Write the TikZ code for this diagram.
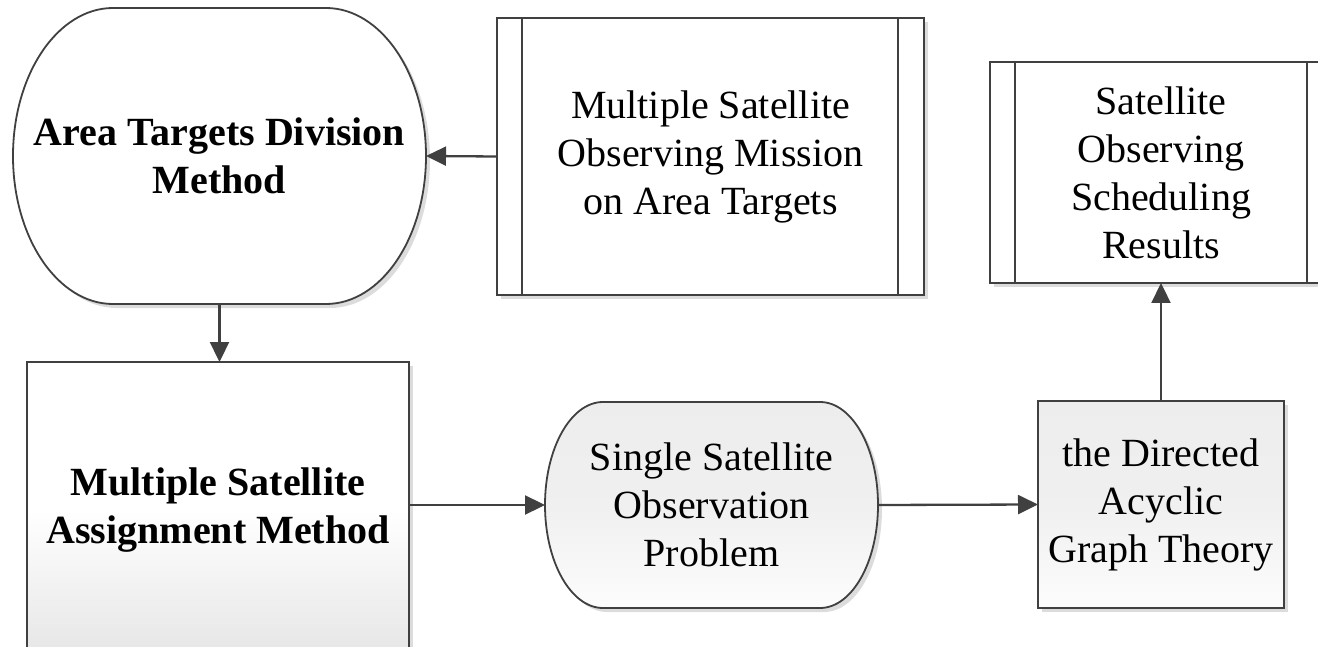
\documentclass[tikz,border=0pt]{standalone}
\usepackage{fontspec}
\setmainfont{Liberation Serif}
\usetikzlibrary{arrows.meta,shadows,backgrounds}
\definecolor{edgegray}{HTML}{404040}
\definecolor{shadegray}{HTML}{DCDCDC}
\tikzset{
  txt/.style={font=\fontsize{40}{48}\selectfont, align=center, inner sep=0pt, outer sep=0pt, rectangle},
  softshadow/.style={drop shadow={shadow xshift=4pt, shadow yshift=-4pt, fill=shadegray, opacity=1}},
  outline/.style={draw=edgegray, line width=1.8pt},
  box/.style={txt, outline, fill=white, softshadow},
  grayfill/.style={top color=black!7, bottom color=black!1, middle color=black!6},
  conn/.style={draw=edgegray, line width=2.3pt, -{Triangle[length=20pt,width=19pt]}},
}
\begin{document}
\begin{tikzpicture}[x=1pt,y=-1pt]
\clip (0,0) rectangle (1318,647);
\useasboundingbox (0,0) rectangle (1318,647);

% nodes
\node[txt, minimum width=413pt, minimum height=296pt, font=\fontsize{40}{48}\selectfont\bfseries] (atd) at (219.5,156) {Area Targets Division\\Method};
\node[box, minimum width=427pt, minimum height=277pt] (msom) at (710.5,156.5) {Multiple Satellite\\Observing Mission\\on Area Targets};
\node[box, minimum width=342pt, minimum height=221pt] (sosr) at (1161,172.5) {Satellite\\Observing\\Scheduling\\Results};
\node[box, minimum width=382pt, minimum height=296pt, font=\fontsize{40}{48}\selectfont\bfseries,
      top color=white, bottom color=black!10, middle color=white] (msa) at (218,510) {Multiple Satellite\\Assignment Method};
\node[txt, minimum width=333pt, minimum height=206pt] (sso) at (711.5,505) {Single Satellite\\Observation\\Problem};
\node[box, minimum width=246pt, minimum height=207pt, grayfill] (dag) at (1161,504.5) {the Directed\\Acyclic\\Graph Theory};

% inner lines of the subprocess boxes
\draw[outline] ([xshift=25pt]msom.north west) -- ([xshift=25pt]msom.south west);
\draw[outline] ([xshift=-26pt]msom.north east) -- ([xshift=-26pt]msom.south east);
\draw[outline] ([xshift=25pt]sosr.north west) -- ([xshift=25pt]sosr.south west);
\draw[outline] ([xshift=-25pt]sosr.north east) -- ([xshift=-25pt]sosr.south east);

% terminator outlines (behind their texts)
\begin{pgfonlayer}{background}
\path[outline, fill=white, softshadow]
  ([xshift=100pt]atd.north west) -- ([xshift=-100pt]atd.north east)
  arc[start angle=90, end angle=-90, x radius=100pt, y radius=148pt]
  -- ([xshift=100pt]atd.south west)
  arc[start angle=270, end angle=90, x radius=100pt, y radius=148pt] -- cycle;
\path[outline, grayfill, softshadow]
  ([xshift=58pt]sso.north west) -- ([xshift=-58pt]sso.north east)
  arc[start angle=90, end angle=-90, x radius=58pt, y radius=103pt]
  -- ([xshift=58pt]sso.south west)
  arc[start angle=270, end angle=90, x radius=58pt, y radius=103pt] -- cycle;
\end{pgfonlayer}

% connectors
\draw[conn] (msom.west) -- (atd.east);
\draw[conn] (atd.south) -- (atd.south |- msa.north);
\draw[conn] (msa.east |- sso.west) -- (sso.west);
\draw[conn] (sso.east) -- (dag.west);
\draw[conn] (dag.north) -- (sosr.south);
\end{tikzpicture}
\end{document}
